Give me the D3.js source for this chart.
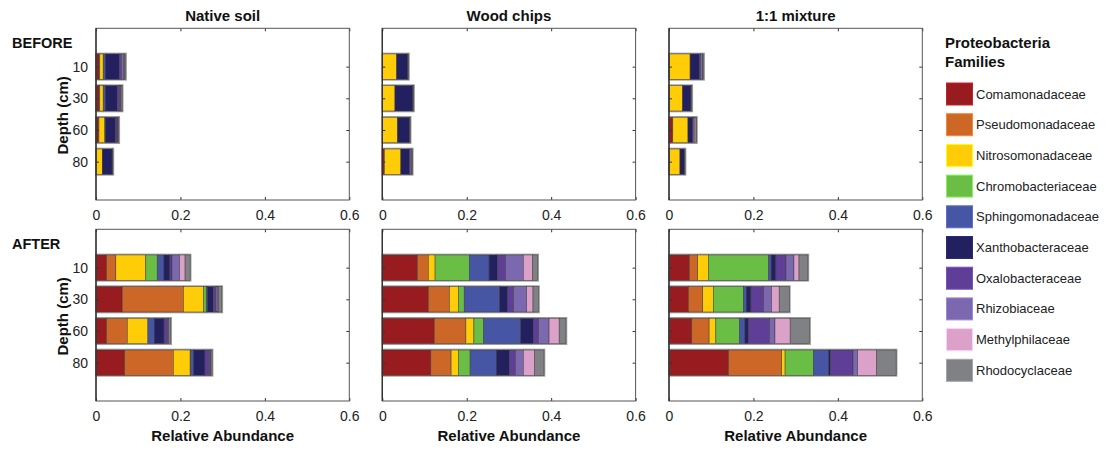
<!DOCTYPE html>
<html>
<head>
<meta charset="utf-8">
<script src="https://cdn.jsdelivr.net/npm/d3@7"></script>
<style>
  html, body { margin: 0; padding: 0; background: #fff; }
  svg { display: block; font-family: "Liberation Sans", Arial, Helvetica, sans-serif; }
  .tick text { font-size: 14px; fill: #222; }
  .tick line { stroke: #333; }
</style>
</head>
<body>
<svg id="chart" width="1112" height="450"></svg>
<script>
// Proteobacteria families, in stacking order
const families = [
  "Comamonadaceae", "Pseudomonadaceae", "Nitrosomonadaceae", "Chromobacteriaceae",
  "Sphingomonadaceae", "Xanthobacteraceae", "Oxalobacteraceae", "Rhizobiaceae",
  "Methylphilaceae", "Rhodocyclaceae"
];
const familyColors = [
  "#981b1f", "#cd6727", "#ffcc08", "#6bbe45", "#4656a5",
  "#23205f", "#5e3e96", "#7c68af", "#dba1c9", "#808184"
];
const depths = ["10", "30", "60", "80"];
const treatments = ["Native soil", "Wood chips", "1:1 mixture"];
const phases = ["BEFORE", "AFTER"];
const xTicks = [0, 0.2, 0.4, 0.6];
const xTickLabels = ["0", "0.2", "0.4", "0.6"];

// Relative abundance per depth (rows) and family (columns)
const beforeNative = [
  [0.007, 0.002, 0.008, 0.000, 0.005, 0.033, 0.005, 0.006, 0.001, 0.003],
  [0.007, 0.002, 0.008, 0.000, 0.005, 0.028, 0.006, 0.002, 0.001, 0.003],
  [0.005, 0.002, 0.014, 0.000, 0.001, 0.024, 0.004, 0.001, 0.001, 0.002],
  [0.001, 0.000, 0.014, 0.000, 0.001, 0.022, 0.001, 0.000, 0.000, 0.001]
];
const beforeWood = [
  [0.000, 0.000, 0.034, 0.000, 0.000, 0.026, 0.001, 0.000, 0.000, 0.001],
  [0.001, 0.000, 0.029, 0.000, 0.000, 0.042, 0.001, 0.000, 0.000, 0.001],
  [0.001, 0.000, 0.035, 0.000, 0.000, 0.028, 0.001, 0.000, 0.000, 0.001],
  [0.005, 0.000, 0.039, 0.000, 0.000, 0.020, 0.002, 0.004, 0.000, 0.001]
];
const beforeMixture = [
  [0.001, 0.000, 0.049, 0.000, 0.000, 0.022, 0.003, 0.005, 0.000, 0.002],
  [0.001, 0.000, 0.031, 0.000, 0.000, 0.020, 0.000, 0.000, 0.000, 0.002],
  [0.009, 0.000, 0.036, 0.000, 0.000, 0.011, 0.001, 0.003, 0.004, 0.001],
  [0.001, 0.000, 0.025, 0.000, 0.000, 0.011, 0.000, 0.000, 0.000, 0.001]
];
const afterNative = [
  [0.025, 0.022, 0.071, 0.027, 0.016, 0.014, 0.005, 0.018, 0.013, 0.012],
  [0.062, 0.145, 0.048, 0.006, 0.003, 0.014, 0.006, 0.004, 0.002, 0.008],
  [0.025, 0.049, 0.049, 0.000, 0.015, 0.023, 0.008, 0.002, 0.001, 0.005],
  [0.068, 0.115, 0.040, 0.001, 0.007, 0.027, 0.011, 0.002, 0.001, 0.003]
];
const afterWood = [
  [0.083, 0.026, 0.016, 0.081, 0.047, 0.020, 0.019, 0.042, 0.022, 0.012],
  [0.109, 0.050, 0.021, 0.014, 0.084, 0.019, 0.014, 0.031, 0.015, 0.013],
  [0.123, 0.075, 0.019, 0.023, 0.088, 0.030, 0.012, 0.025, 0.024, 0.016],
  [0.115, 0.048, 0.017, 0.028, 0.062, 0.031, 0.014, 0.019, 0.026, 0.023]
];
const afterMixture = [
  [0.048, 0.020, 0.025, 0.143, 0.006, 0.011, 0.024, 0.019, 0.012, 0.021],
  [0.046, 0.034, 0.025, 0.071, 0.007, 0.011, 0.030, 0.019, 0.018, 0.024],
  [0.054, 0.041, 0.016, 0.056, 0.013, 0.008, 0.050, 0.013, 0.036, 0.046],
  [0.141, 0.126, 0.008, 0.067, 0.036, 0.004, 0.054, 0.011, 0.045, 0.046]
];

const panelData = [
  [beforeNative, beforeWood, beforeMixture],
  [afterNative, afterWood, afterMixture]
];

// Layout
const panelLeft = [96, 382.3, 669];
const panelTop = [28.3, 229.3];
const panelW = 253.3;
const panelH = 171.7;

const svg = d3.select("#chart");
const color = d3.scaleOrdinal().domain(families).range(familyColors);

const x = d3.scaleLinear().domain([0, 0.6]).range([0, panelW]);
const y = d3.scaleLinear().domain([-1.21, 4.21]).range([0, panelH]);
const barH = (y(1) - y(0)) * 0.8;

const stack = d3.stack().keys(d3.range(families.length));

// Column titles
treatments.forEach((t, c) => {
  svg.append("text")
    .attr("x", panelLeft[c] + panelW / 2)
    .attr("y", 21)
    .attr("text-anchor", "middle")
    .attr("font-size", 15)
    .attr("font-weight", "bold")
    .attr("fill", "#111")
    .text(t);
});

phases.forEach((phase, r) => {
  const top = panelTop[r];

  svg.append("text")
    .attr("x", 12)
    .attr("y", top + 20)
    .attr("font-size", 14.5)
    .attr("font-weight", "bold")
    .attr("fill", "#111")
    .text(phase);

  svg.append("text")
    .attr("transform", `translate(68,${top + 87}) rotate(-90)`)
    .attr("text-anchor", "middle")
    .attr("font-size", 15)
    .attr("font-weight", "bold")
    .attr("fill", "#111")
    .text("Depth (cm)");

  treatments.forEach((t, c) => {
    const g = svg.append("g").attr("transform", `translate(${panelLeft[c]},${top})`);
    const rows = panelData[r][c];
    const series = stack(rows);

    // bars
    const barG = g.append("g");
    rows.forEach((row, i) => {
      const total = d3.sum(row);
      barG.append("rect")
        .attr("x", x(0))
        .attr("y", y(i) - barH / 2 - 0.5)
        .attr("width", x(total) + 0.5)
        .attr("height", barH + 1)
        .attr("fill", "none")
        .attr("stroke", "#9a9a9a")
        .attr("stroke-width", 1.6);
    });
    series.forEach((s, k) => {
      barG.selectAll(null)
        .data(s.map((d, i) => ({ d, i })).filter(e => e.d[1] - e.d[0] > 0))
        .join("rect")
        .attr("x", e => x(e.d[0]))
        .attr("y", e => y(e.i) - barH / 2)
        .attr("width", e => x(e.d[1]) - x(e.d[0]))
        .attr("height", barH)
        .attr("fill", color(families[k]))
        .attr("stroke", "#3a3a3a")
        .attr("stroke-width", 0.5);
    });

    // axes (ticks drawn inward)
    const bottom = d3.axisBottom(x).tickValues(xTicks)
      .tickFormat((d, i) => xTickLabels[i])
      .tickSizeInner(-3).tickSizeOuter(0).tickPadding(10);
    const topAx = d3.axisTop(x).tickValues(xTicks).tickFormat("")
      .tickSizeInner(-3).tickSizeOuter(0);
    const left = d3.axisLeft(y).tickValues(d3.range(depths.length))
      .tickFormat(c === 0 ? (i => depths[i]) : "")
      .tickSizeInner(-3).tickSizeOuter(0).tickPadding(8);
    const right = d3.axisRight(y).tickValues(d3.range(depths.length)).tickFormat("")
      .tickSizeInner(-3).tickSizeOuter(0);

    g.append("g").attr("transform", `translate(0,${panelH})`).call(bottom)
      .call(a => a.select(".domain").remove());
    g.append("g").call(topAx).call(a => a.select(".domain").remove());
    g.append("g").call(left).call(a => a.select(".domain").remove());
    g.append("g").attr("transform", `translate(${panelW},0)`).call(right)
      .call(a => a.select(".domain").remove());
    g.selectAll(".tick text").attr("font-size", 14).attr("font-family", null);

    // frame
    g.append("rect")
      .attr("width", panelW).attr("height", panelH)
      .attr("fill", "none").attr("stroke", "#555").attr("stroke-width", 1);
    g.append("line")
      .attr("x1", 0).attr("x2", 0).attr("y1", 0).attr("y2", panelH)
      .attr("stroke", "#333").attr("stroke-width", 1.4);

    if (r === 1) {
      g.append("text")
        .attr("x", panelW / 2)
        .attr("y", 441 - top)
        .attr("text-anchor", "middle")
        .attr("font-size", 15)
        .attr("font-weight", "bold")
        .attr("fill", "#111")
        .text("Relative Abundance");
    }
  });
});

// Legend
const legend = svg.append("g").attr("transform", "translate(945,0)");
legend.append("text").attr("x", 0).attr("y", 48)
  .attr("font-size", 15).attr("font-weight", "bold").attr("fill", "#111")
  .text("Proteobacteria");
legend.append("text").attr("x", 0).attr("y", 67)
  .attr("font-size", 15).attr("font-weight", "bold").attr("fill", "#111")
  .text("Families");

const item = legend.selectAll(".item").data(families).join("g")
  .attr("class", "item")
  .attr("transform", (d, i) => `translate(0,${83 + i * 30.7})`);
item.append("rect")
  .attr("x", 1.5).attr("y", 0).attr("width", 26).attr("height", 22)
  .attr("fill", d => color(d))
  .attr("stroke", d => d3.color(color(d)).brighter(0.7))
  .attr("stroke-width", 1);
item.append("text")
  .attr("x", 31).attr("y", 15.5)
  .attr("font-size", 13).attr("fill", "#222")
  .text(d => d);
</script>
</body>
</html>
